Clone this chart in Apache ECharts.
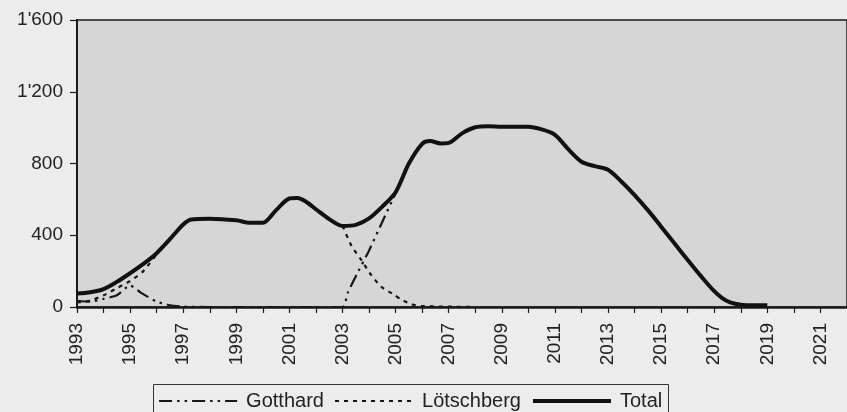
<!DOCTYPE html>
<html>
<head>
<meta charset="utf-8">
<script src="https://cdn.jsdelivr.net/npm/echarts@6/dist/echarts.min.js"></script>
<style>
html,body{margin:0;padding:0;background:#ececec;}
#c{width:847px;height:412px;}
</style>
</head>
<body>
<div id="c"></div>
<script>
// ---- data ----
const totalYears = [1993, 1993.5, 1994, 1994.5, 1995, 1995.5, 1996, 1996.5, 1997, 1997.3, 1998, 1999, 1999.5, 2000, 2000.5, 2001, 2001.3, 2001.6, 2002, 2002.5, 2003, 2003.5, 2004, 2004.5, 2005, 2005.5, 2006, 2006.3, 2006.7, 2007, 2007.5, 2008, 2008.5, 2009, 2009.5, 2010, 2010.5, 2011, 2011.5, 2012, 2012.5, 2013, 2013.5, 2014, 2014.5, 2015, 2015.5, 2016, 2016.5, 2017, 2017.3, 2017.6, 2018, 2018.5, 2019];
const totalValues = [75, 82, 100, 140, 188, 240, 300, 378, 460, 488, 492, 483, 470, 470, 540, 605, 608, 590, 545, 490, 452, 458, 494, 560, 640, 800, 910, 925, 912, 915, 968, 1002, 1008, 1005, 1005, 1005, 990, 960, 880, 810, 785, 765, 700, 624, 540, 448, 355, 262, 172, 88, 50, 26, 13, 10, 10];

const gotthardYears = [1993, 1993.5, 1994, 1994.5, 1995, 1995.4, 1996, 1996.5, 1997, 1998, 2000, 2003, 2003.2, 2003.6, 2004, 2004.5, 2005];
const gotthardValues = [35, 30, 45, 65, 120, 80, 30, 10, 2, 0, 0, 0, 80, 200, 315, 475, 635];

const loetschbergYears = [1993, 1993.5, 1994, 1994.5, 1995, 1995.5, 1996, 2000, 2003, 2003.34, 2003.71, 2004.03, 2004.46, 2004.96, 2005.2, 2005.6, 2006, 2007, 2008];
const loetschbergValues = [25, 35, 65, 105, 145, 200, 295, '-', 452, 340, 262, 188, 113, 67, 43, 15, 5, 2, 0];

const xTickLabels = ['1993','1995','1997','1999','2001','2003','2005','2007','2009','2011','2013','2015','2017','2019','2021'];
const yTickLabels = ['0', '400', '800', "1'200", "1'600"];

const zip = (xs, ys) => xs.map((x, i) => [x, ys[i]]);
const FONT = '"Liberation Sans", Arial, sans-serif';

const chart = echarts.init(document.getElementById('c'), null, {renderer: 'canvas'});
chart.setOption({
  backgroundColor: '#ececec',
  animation: false,
  textStyle: {fontFamily: FONT},
  grid: {
    left: 77, top: 20, right: -5, bottom: 105,
    show: true, backgroundColor: '#d6d6d6', borderColor: '#1a1a1a', borderWidth: 1.5
  },
  graphic: [{
    type: 'rect', left: 153, top: 384, silent: true, z: -1,
    shape: {width: 515, height: 60},
    style: {fill: 'transparent', stroke: '#333', lineWidth: 1}
  }],
  legend: {
    left: 153, top: 384,
    padding: [7, 5, 7, 5],
    itemWidth: 78, itemHeight: 14, itemGap: 10,
    itemStyle: {opacity: 0},
    textStyle: {fontSize: 20, color: '#222', fontFamily: FONT, padding: [0, 0, 0, 4]},
    data: [
      {name: 'Gotthard', lineStyle: {width: 2.2}},
      {name: 'Lötschberg', lineStyle: {width: 2.2}},
      {name: 'Total', lineStyle: {width: 4}}
    ]
  },
  xAxis: {
    type: 'value', min: 1993, max: 2022, interval: 1,
    axisLine: {show: true, lineStyle: {color: '#1a1a1a', width: 2.5}},
    axisTick: {show: true, length: 6, lineStyle: {color: '#1a1a1a', width: 1.2}},
    splitLine: {show: false},
    axisLabel: {
      rotate: 90, margin: 16, fontSize: 19, color: '#222', fontFamily: FONT,
      showMaxLabel: false,
      formatter: v => {
        const s = String(Math.round(v));
        return xTickLabels.indexOf(s) >= 0 ? s : '';
      }
    }
  },
  yAxis: {
    type: 'value', min: 0, max: 1600, interval: 400,
    axisLine: {show: true, lineStyle: {color: '#1a1a1a', width: 2}},
    axisTick: {show: true, length: 7, lineStyle: {color: '#1a1a1a', width: 1.2}},
    splitLine: {show: false},
    axisLabel: {
      margin: 14, fontSize: 19, color: '#222', fontFamily: FONT,
      formatter: v => yTickLabels[Math.round(v / 400)]
    }
  },
  series: [
    {
      name: 'Gotthard', type: 'line', symbol: 'none', smooth: 0.2,
      data: zip(gotthardYears, gotthardValues),
      itemStyle: {color: '#161616'},
      lineStyle: {color: '#161616', width: 2.2, type: [13, 5, 2.5, 5, 2.5, 5]},
      z: 2
    },
    {
      name: 'Lötschberg', type: 'line', symbol: 'none', smooth: 0.2,
      data: zip(loetschbergYears, loetschbergValues),
      itemStyle: {color: '#161616'},
      lineStyle: {color: '#161616', width: 2.2, type: [4, 5]},
      z: 2
    },
    {
      name: 'Total', type: 'line', symbol: 'none', smooth: 0.3,
      data: zip(totalYears, totalValues),
      itemStyle: {color: '#111'},
      lineStyle: {color: '#111', width: 4},
      z: 3
    }
  ]
});
</script>
</body>
</html>
